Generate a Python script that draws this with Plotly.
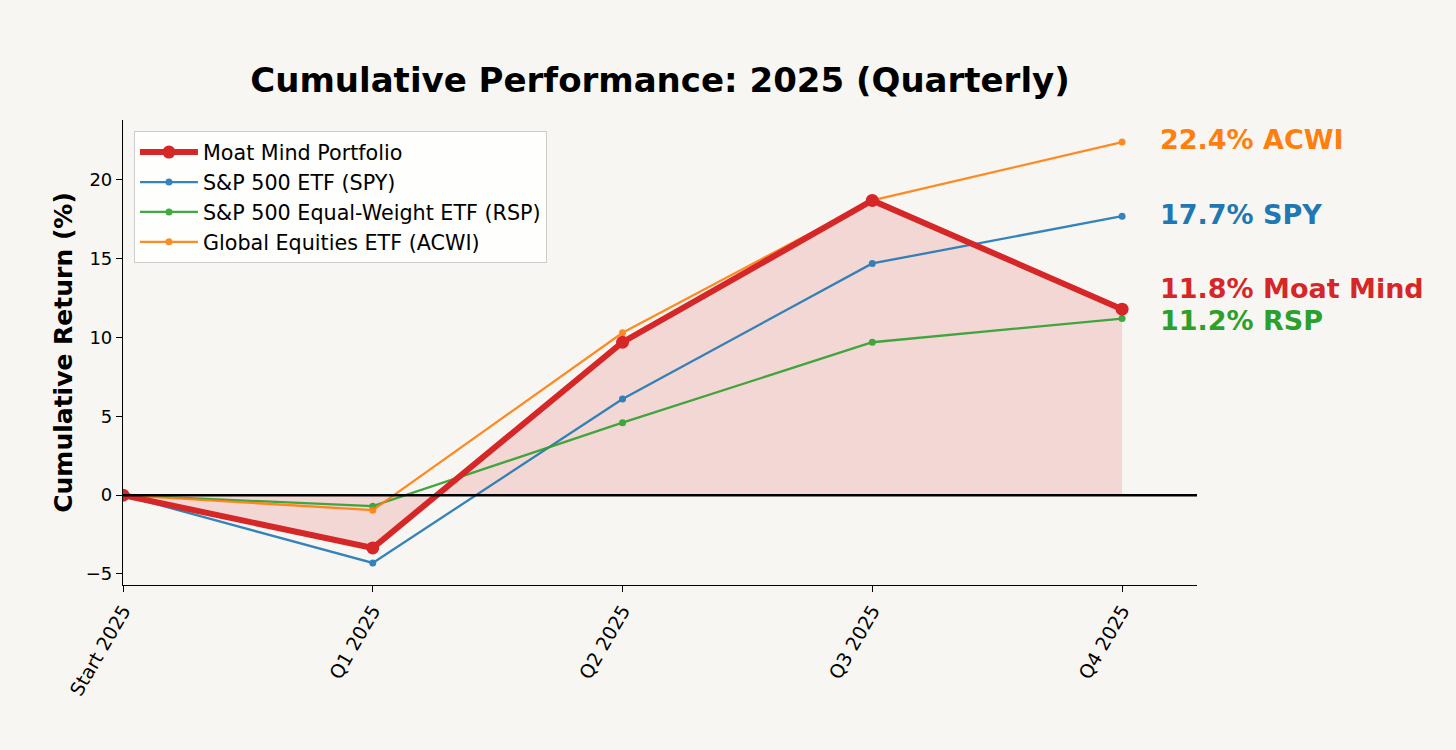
import plotly.graph_objects as go

quarters = ["Start 2025", "Q1 2025", "Q2 2025", "Q3 2025", "Q4 2025"]
moat = [0.0, -3.35, 9.7, 18.7, 11.8]
spy = [0.0, -4.3, 6.1, 14.7, 17.7]
rsp = [0.0, -0.7, 4.6, 9.7, 11.2]
acwi = [0.0, -0.95, 10.3, 18.7, 22.4]

names = ["Moat Mind Portfolio", "S&P 500 ETF (SPY)", "S&P 500 Equal-Weight ETF (RSP)", "Global Equities ETF (ACWI)"]
short = ["Moat Mind", "SPY", "RSP", "ACWI"]
colors = ["#d62728", "#1f77b4", "#2ca02c", "#ff7f0e"]

xi = list(range(len(quarters)))
BG = "#f8f6f2"
FONT = "DejaVu Sans"

fig = go.Figure()

# fill under portfolio
fig.add_trace(go.Scatter(x=xi, y=moat, mode="lines", fill="tozeroy",
                         fillcolor="rgba(214,39,40,0.15)", line=dict(width=0),
                         showlegend=False, hoverinfo="skip"))

series = [spy, rsp, acwi]
for s, n, c, r in zip(series, names[1:], colors[1:], [2, 3, 4]):
    fig.add_trace(go.Scatter(x=xi, y=s, mode="lines+markers", name=n,
                             line=dict(color=c, width=2.3), marker=dict(size=7, color=c),
                             opacity=0.9, legendrank=r))

fig.add_trace(go.Scatter(x=xi, y=moat, mode="lines+markers", name=names[0],
                         line=dict(color=colors[0], width=6), marker=dict(size=13, color=colors[0]),
                         legendrank=1))

# end labels
finals = [moat[-1], spy[-1], rsp[-1], acwi[-1]]
shifts = [21, 2, -2, 3]
for v, sname, c, sh in zip(finals, short, colors, shifts):
    fig.add_annotation(x=xi[-1], y=v, text=f"<b>{v:.1f}% {sname}</b>", showarrow=False,
                       xanchor="left", yanchor="middle", xshift=36, yshift=sh,
                       font=dict(family=FONT, size=27, color=c))

fig.add_shape(type="line", xref="paper", x0=0, x1=1, yref="y", y0=0, y1=0,
              line=dict(color="black", width=2.5), layer="above")

fig.update_layout(
    width=1456, height=750,
    paper_bgcolor=BG, plot_bgcolor=BG,
    margin=dict(l=123, r=259, t=120, b=165),
    font=dict(family=FONT, size=18, color="black"),
    title=dict(text="<b>Cumulative Performance: 2025 (Quarterly)</b>", x=(123 + 1197) / 2 / 1456,
               xanchor="center", y=1 - 80 / 750, yanchor="middle", yref="container",
               font=dict(family=FONT, size=34, color="black")),
    legend=dict(x=0.0102, y=0.976, xanchor="left", yanchor="top",
                bgcolor="rgba(255,255,255,0.85)", bordercolor="#cccccc", borderwidth=1,
                font=dict(family=FONT, size=20.7), traceorder="normal", tracegroupgap=0,
                itemwidth=58),
    showlegend=True,
)

fig.update_xaxes(range=[0, 4.3], tickmode="array", tickvals=xi, ticktext=quarters,
                 tickangle=-60, showgrid=False, zeroline=False, showline=True,
                 linecolor="black", linewidth=1.2, ticks="outside", ticklen=6,
                 tickcolor="black", tickfont=dict(size=19))
fig.update_yaxes(range=[-5.7, 23.8], tickvals=[-5, 0, 5, 10, 15, 20],
                 ticktext=["\u22125", "0", "5", "10", "15", "20"],
                 showgrid=False, zeroline=False, showline=True,
                 linecolor="black", linewidth=1.2, ticks="outside", ticklen=6,
                 tickcolor="black", tickfont=dict(size=18),
                 title=dict(text="<b>Cumulative Return (%)</b>", font=dict(size=25), standoff=6))

fig.write_html("out.html", config={"displayModeBar": False},
               post_script="document.body.style.margin='0';document.body.style.background='%s';" % BG)
